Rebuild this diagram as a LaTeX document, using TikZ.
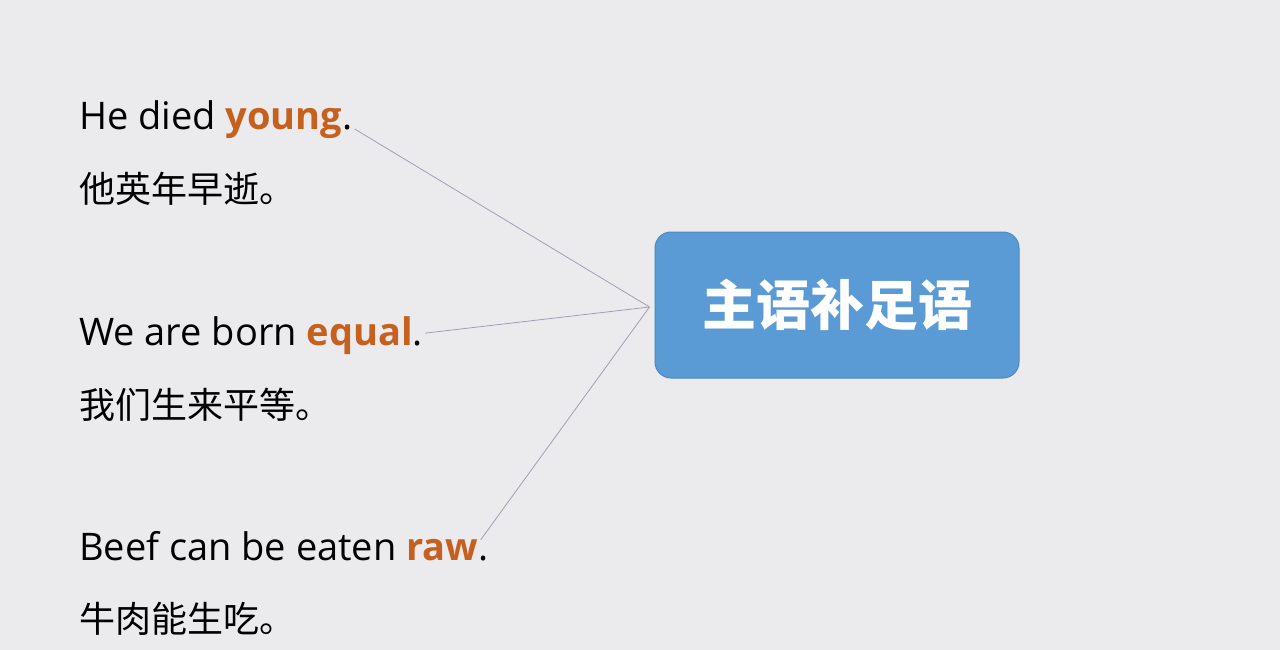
\documentclass[tikz,border=0pt]{standalone}
\usepackage{fontspec}
\setmainfont{Open Sans}
\newfontfamily\cjk{Noto Sans CJK SC}
\usetikzlibrary{positioning}
\definecolor{bgcol}{HTML}{EBEBED}
\definecolor{keycol}{HTML}{C5601F}
\definecolor{boxcol}{HTML}{5B9BD5}
\definecolor{boxedge}{HTML}{4D88C2}
\definecolor{linkcol}{HTML}{A39DB3}
\tikzset{>=latex}
\tikzset{
	en/.style={anchor=base west,inner sep=0pt,font=\fontsize{38}{44}\selectfont},
	zh/.style={anchor=west,inner sep=0pt,font=\cjk\fontsize{36}{40}\selectfont},
	link/.style={draw=linkcol,line width=0.8pt},
	topic/.style={fill=boxcol,draw=boxedge,line width=1pt,rounded corners=16pt,
		minimum width=364pt,minimum height=146pt,text=white,
		font=\cjk\bfseries\fontsize{54}{60}\selectfont}
}
\newcommand{\kw}[1]{\textbf{\color{keycol}#1}}

\begin{document}
\begin{tikzpicture}[x=1pt,y=-1pt]
	\fill[bgcol] (0,0) rectangle (1280,650);
	\useasboundingbox (0,0) rectangle (1280,650);
	% sentences
	\node[en] (e1) at (79,130) {He died \kw{young}.};
	\node[zh] (z1) at (79,189) {他英年早逝。};
	\node[en] (e2) at (79,345) {We are born \kw{equal}.};
	\node[zh] (z2) at (79,405) {我们生来平等。};
	\node[en] (e3) at (79,560) {Beef can be eaten \kw{raw}.};
	\node[zh] (z3) at (79,619) {牛肉能生吃。};
	% topic
	\node[topic] (sc) at (837,305) {主语补足语};
	\coordinate (hub) at ([xshift=-5pt,yshift=-2pt]sc.west);
	\draw[link] ([xshift=2pt,yshift=1pt]e1.base east) -- (hub);
	\draw[link] ([xshift=2pt,yshift=2pt]e2.east) -- (hub);
	\draw[link] ([xshift=-8pt,yshift=6pt]e3.east) -- (hub);
\end{tikzpicture}
\end{document}
